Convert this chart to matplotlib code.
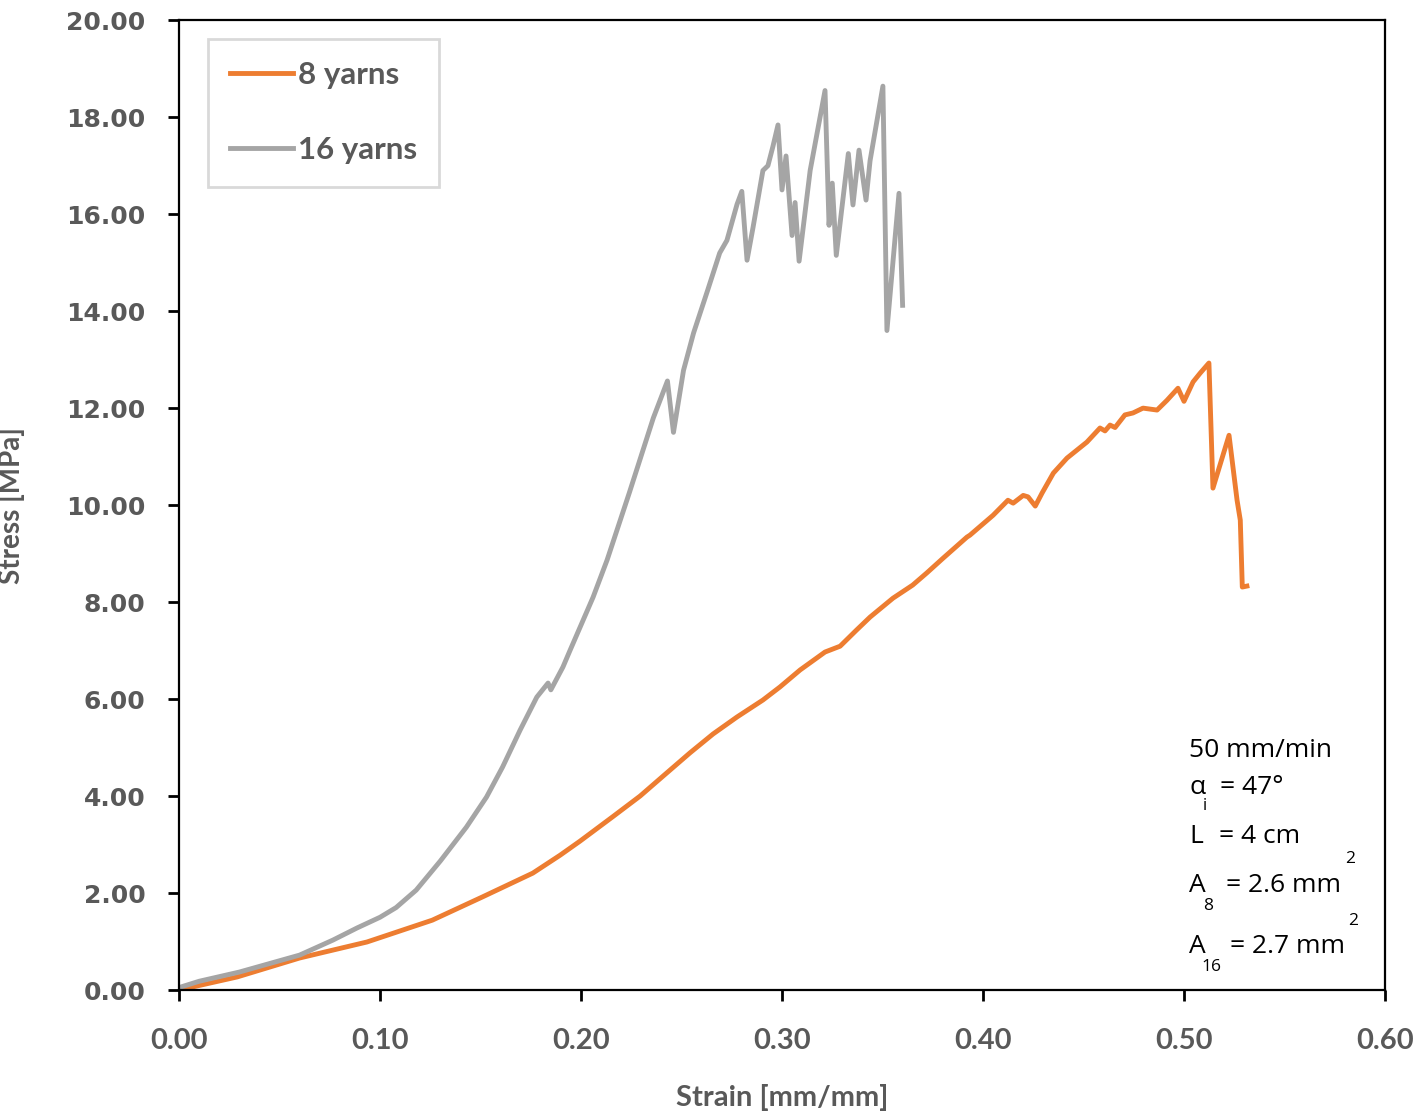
import matplotlib
matplotlib.use("Agg")
import matplotlib.pyplot as plt

# 16 yarns (grey)
strain_16 = [0.0, 0.010, 0.030, 0.060, 0.0766, 0.0886, 0.100, 0.108, 0.118, 0.130, 0.143,
             0.153, 0.161, 0.1697, 0.178, 0.1836, 0.1850, 0.191,
             0.1945, 0.206, 0.213, 0.224, 0.236, 0.243, 0.246, 0.251, 0.256, 0.263,
             0.269, 0.2726, 0.2776, 0.280, 0.2826, 0.2856, 0.2905, 0.293, 0.2955, 0.298,
             0.300, 0.302, 0.305, 0.3065, 0.3085, 0.314, 0.3214, 0.3234, 0.325, 0.327,
             0.333, 0.3353, 0.3383, 0.3418, 0.3438, 0.3502, 0.3522, 0.3582, 0.360]
stress_16 = [0.05, 0.18, 0.37, 0.72, 1.03, 1.28, 1.50, 1.70, 2.06, 2.66, 3.36,
             3.98, 4.6, 5.36, 6.04, 6.33, 6.19, 6.66,
             7.0, 8.1, 8.87, 10.25, 11.8, 12.56, 11.5, 12.78, 13.55, 14.43,
             15.2, 15.46, 16.2, 16.47, 15.05, 15.73, 16.9, 17.0, 17.4, 17.84,
             16.5, 17.2, 15.56, 16.24, 15.03, 16.9, 18.55, 15.77, 16.64, 15.15,
             17.25, 16.19, 17.32, 16.29, 17.1, 18.64, 13.6, 16.43, 14.12]

# 8 yarns (orange)
strain_8 = [0.0, 0.029, 0.060, 0.0935, 0.126, 0.151, 0.176, 0.1896, 0.1995, 0.216,
            0.2294, 0.2408, 0.2542, 0.2657, 0.2776, 0.2905, 0.299, 0.309, 0.3214,
            0.3289, 0.337, 0.3438, 0.3552, 0.365, 0.372, 0.380, 0.392, 0.3935, 0.405,
            0.4124, 0.415, 0.420, 0.4224, 0.426, 0.4294, 0.435, 0.4418,
            0.4517, 0.4582, 0.4607, 0.4632, 0.4657, 0.4706, 0.4746, 0.4796, 0.4866,
            0.4915, 0.497, 0.500, 0.5045, 0.508, 0.5124, 0.5144, 0.5224, 0.5264,
            0.528, 0.529, 0.5313]
stress_8 = [0.0, 0.27, 0.66, 0.99, 1.44, 1.92, 2.41, 2.78, 3.07, 3.58,
            4.0, 4.41, 4.89, 5.28, 5.63, 5.98, 6.25, 6.6, 6.97,
            7.09, 7.42, 7.69, 8.08, 8.35, 8.6, 8.9, 9.34, 9.38, 9.79,
            10.1, 10.04, 10.2, 10.17, 9.98, 10.25, 10.66, 10.97,
            11.3, 11.59, 11.53, 11.65, 11.6, 11.86, 11.9, 12.0, 11.96,
            12.16, 12.41, 12.14, 12.54, 12.72, 12.93, 10.35, 11.44, 10.1,
            9.69, 8.31, 8.33]

x_ticks = [0.0, 0.1, 0.2, 0.3, 0.4, 0.5, 0.6]
y_ticks = [0, 2, 4, 6, 8, 10, 12, 14, 16, 18, 20]

ORANGE = "#ED7D31"
GREY = "#A5A5A5"
TXT = "#595959"

fig = plt.figure(figsize=(14.23, 11.16), dpi=100)
ax = fig.add_axes([0.1258, 0.1129, 0.8475, 0.869])

ax.plot(strain_8, stress_8, color=ORANGE, lw=3.5, label="8 yarns", solid_joinstyle="round")
ax.plot(strain_16, stress_16, color=GREY, lw=3.5, label="16 yarns", solid_joinstyle="round")

ax.set_xlim(0, 0.6)
ax.set_ylim(0, 20)
ax.set_xticks(x_ticks)
ax.set_yticks(y_ticks)
ax.set_xticklabels([f"{v:.2f}" for v in x_ticks], fontfamily="Lato", fontweight="bold",
                   fontsize=21, color=TXT)
ax.set_yticklabels([f"{v:.2f}" for v in y_ticks], fontfamily="DejaVu Sans", fontweight="bold",
                   fontsize=18, color=TXT)
ax.tick_params(axis="both", direction="out", length=8, width=2, color="black")
ax.tick_params(axis="x", pad=19)
ax.tick_params(axis="y", pad=16)
for s in ax.spines.values():
    s.set_linewidth(1.6)
    s.set_color("black")

ax.set_xlabel("Strain [mm/mm]", fontfamily="Lato", fontweight="bold", fontsize=21,
              color=TXT, labelpad=22)
ax.set_ylabel("Stress [MPa]", fontfamily="Lato", fontweight="bold", fontsize=20,
              color=TXT, labelpad=30)

leg = ax.legend(loc="upper left", bbox_to_anchor=(0.024, 0.981), borderaxespad=0,
                prop={"family": "Lato", "weight": "bold", "size": 22.5},
                handlelength=2.0, handletextpad=0.15, labelspacing=1.5,
                borderpad=0.72, frameon=True, fancybox=False)
leg.get_frame().set_edgecolor("#D0D0D0")
leg.get_frame().set_linewidth(2)
for t in leg.get_texts():
    t.set_color(TXT)

# annotation block
fs = 19
fam = "Open Sans"
x0 = 0.5025
ax.text(x0, 4.93, "50 mm/min", fontsize=fs, family=fam, va="center")
ax.text(x0, 4.18, "α", fontsize=fs, family=fam, va="center")
ax.text(x0 + 0.0070, 3.8, "i", fontsize=12, family=fam, va="center")
ax.text(x0 + 0.0155, 4.18, "= 47°", fontsize=fs, family=fam, va="center")
ax.text(x0, 3.16, "L", fontsize=fs, family=fam, va="center")
ax.text(x0 + 0.0150, 3.16, "= 4 cm", fontsize=fs, family=fam, va="center")
ax.text(x0, 2.15, "A", fontsize=fs, family=fam, va="center")
ax.text(x0 + 0.0070, 1.74, "8", fontsize=12.5, family=fam, va="center")
ax.text(x0 + 0.0185, 2.15, "= 2.6 mm", fontsize=fs, family=fam, va="center")
ax.text(x0 + 0.0775, 2.7, "2", fontsize=12.5, family=fam, va="center")
ax.text(x0, 0.9, "A", fontsize=fs, family=fam, va="center")
ax.text(x0 + 0.0060, 0.48, "16", fontsize=12.5, family=fam, va="center")
ax.text(x0 + 0.0205, 0.9, "= 2.7 mm", fontsize=fs, family=fam, va="center")
ax.text(x0 + 0.0790, 1.42, "2", fontsize=12.5, family=fam, va="center")

fig.savefig("out.png", dpi=100)
